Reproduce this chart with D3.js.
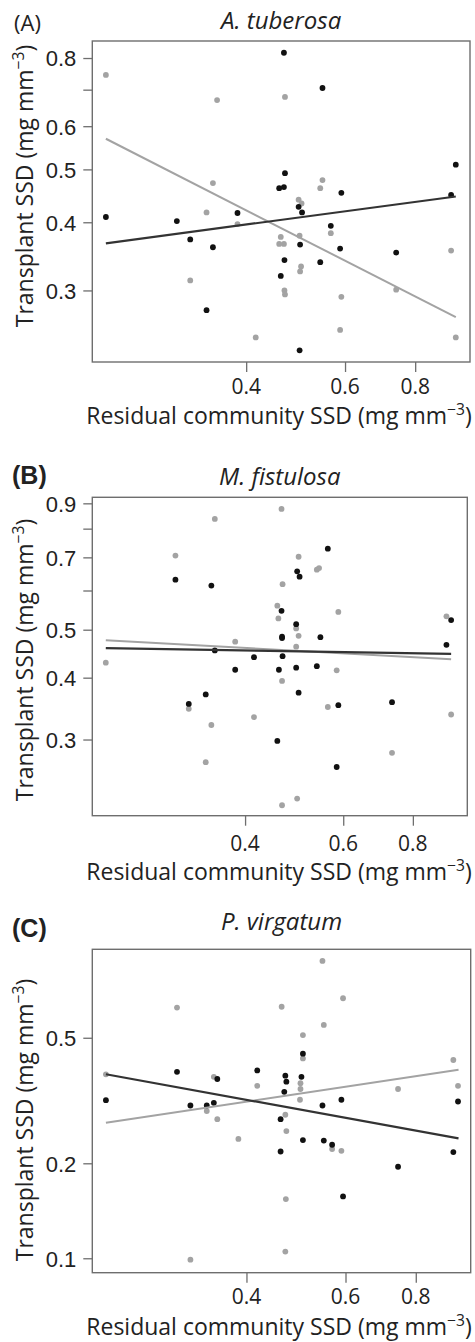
<!DOCTYPE html>
<html>
<head>
<meta charset="utf-8">
<script src="https://cdn.jsdelivr.net/npm/d3@7"></script>
<style>
  body { margin: 0; background: #fff; }
  svg { display: block; }
  .ytick { font-family: "Liberation Sans", Arial, sans-serif; font-size: 22px; fill: #222; }
  .xtick { font-family: "Open Sans", sans-serif; font-size: 21px; fill: #222; }
  .axis-title { font-family: "Open Sans", sans-serif; font-size: 23px; fill: #222; }
  .panel-title { font-family: "Open Sans", sans-serif; font-style: italic; font-size: 24px; fill: #222; }
</style>
</head>
<body>
<div id="chart"></div>
<script>
const width = 475, height = 1342;

// shared x axis (log scale)
const xDomain = [0.2128, 1.0017];
const xTicks = [0.4, 0.6, 0.8];

// (A) A. tuberosa
const aYDomain = [0.2218, 0.8596];
const aYTicks = [0.3, 0.4, 0.5, 0.6, 0.7, 0.8];
const aYLabels = [0.3, 0.4, 0.5, 0.6, 0.8];
const aBlackX = [0.225, 0.301, 0.318, 0.340, 0.349, 0.386, 0.467, 0.469, 0.458, 0.467, 0.468, 0.461,
  0.496, 0.503, 0.499, 0.498, 0.547, 0.591, 0.566, 0.542, 0.588, 0.740, 0.945, 0.927];
const aBlackY = [0.409, 0.402, 0.372, 0.276, 0.360, 0.416, 0.818, 0.492, 0.462, 0.464, 0.341, 0.319,
  0.427, 0.417, 0.364, 0.233, 0.705, 0.453, 0.394, 0.338, 0.358, 0.352, 0.510, 0.449];
const aGreyX = [0.225, 0.355, 0.349, 0.340, 0.318, 0.386, 0.416, 0.469, 0.547, 0.542, 0.496, 0.502, 0.461,
  0.458, 0.467, 0.468, 0.469, 0.498, 0.501, 0.499, 0.566, 0.591, 0.588, 0.740, 0.927, 0.945];
const aGreyY = [0.745, 0.670, 0.472, 0.417, 0.313, 0.397, 0.246, 0.679, 0.478, 0.462, 0.440, 0.433, 0.376,
  0.365, 0.365, 0.300, 0.295, 0.378, 0.332, 0.325, 0.382, 0.292, 0.254, 0.301, 0.355, 0.246];
const aFitX = [0.225, 0.945];
const aBlackFit = [0.366, 0.446];
const aGreyFit = [0.569, 0.268];

// (B) M. fistulosa
const bYDomain = [0.2105, 0.9256];
const bYTicks = [0.3, 0.4, 0.5, 0.6, 0.7, 0.8, 0.9];
const bYLabels = [0.3, 0.4, 0.5, 0.7, 0.9];
const bBlackX = [0.300, 0.348, 0.563, 0.496, 0.501, 0.465, 0.494, 0.466, 0.466, 0.546, 0.937, 0.919, 0.353,
  0.415, 0.467, 0.384, 0.460, 0.494, 0.538, 0.340, 0.317, 0.499, 0.588, 0.734, 0.457, 0.584];
const bBlackY = [0.631, 0.614, 0.729, 0.656, 0.640, 0.546, 0.513, 0.484, 0.481, 0.483, 0.523, 0.466, 0.454,
  0.440, 0.442, 0.415, 0.415, 0.419, 0.422, 0.370, 0.354, 0.373, 0.352, 0.357, 0.298, 0.264];
const bGreyX = [0.465, 0.353, 0.300, 0.499, 0.538, 0.543, 0.467, 0.457, 0.459, 0.494, 0.499, 0.494, 0.384, 0.588,
  0.919, 0.225, 0.584, 0.466, 0.317, 0.563, 0.415, 0.348, 0.937, 0.340, 0.734, 0.466, 0.496];
const bGreyY = [0.877, 0.837, 0.706, 0.702, 0.661, 0.666, 0.618, 0.559, 0.527, 0.503, 0.486, 0.462, 0.473, 0.543,
  0.532, 0.429, 0.414, 0.394, 0.346, 0.349, 0.333, 0.321, 0.337, 0.270, 0.282, 0.221, 0.228];
const bFitX = [0.225, 0.937];
const bBlackFit = [0.459, 0.447];
const bGreyFit = [0.476, 0.436];

// (C) P. virgatum
const cYDomain = [0.090, 0.9536];
const cYTicks = [0.1, 0.2, 0.5];
const cYLabels = [0.1, 0.2, 0.5];
const cBlackX = [0.504, 0.301, 0.418, 0.355, 0.469, 0.471, 0.501, 0.467, 0.225, 0.318, 0.340, 0.350,
  0.546, 0.590, 0.951, 0.460, 0.504, 0.549, 0.568, 0.460, 0.744, 0.933, 0.594];
const cBlackY = [0.445, 0.390, 0.394, 0.370, 0.379, 0.363, 0.376, 0.337, 0.317, 0.305, 0.305, 0.311,
  0.305, 0.318, 0.314, 0.276, 0.237, 0.236, 0.229, 0.218, 0.195, 0.217, 0.157];
const cGreyX = [0.546, 0.594, 0.301, 0.462, 0.549, 0.504, 0.504, 0.933, 0.225, 0.350, 0.418, 0.499, 0.499,
  0.744, 0.951, 0.498, 0.340, 0.355, 0.387, 0.469, 0.471, 0.568, 0.590, 0.470, 0.469, 0.318];
const cGreyY = [0.876, 0.667, 0.623, 0.627, 0.549, 0.510, 0.430, 0.425, 0.383, 0.376, 0.352, 0.359, 0.344,
  0.344, 0.352, 0.318, 0.293, 0.276, 0.239, 0.285, 0.253, 0.222, 0.219, 0.154, 0.105, 0.099];
const cFitX = [0.225, 0.953];
const cBlackFit = [0.383, 0.240];
const cGreyFit = [0.269, 0.396];

const black = "#111111";
const grey = "#a3a3a3";
const frame = "#6e6e6e";

const panels = [
  { label: "(A)", bold: false, labelY: 31, title: "A. tuberosa", titleY: 29,
    left: 92.3, right: 470, top: 41, bottom: 362,
    yDomain: aYDomain, yTicks: aYTicks, yLabels: aYLabels,
    blackX: aBlackX, blackY: aBlackY, greyX: aGreyX, greyY: aGreyY,
    fitX: aFitX, blackFit: aBlackFit, greyFit: aGreyFit,
    xTickY: 394, xTitleY: 424, yTitleY: 186 },
  { label: "(B)", bold: true, labelY: 484, title: "M. fistulosa", titleY: 485,
    left: 92.3, right: 467.3, top: 497.3, bottom: 815.7,
    yDomain: bYDomain, yTicks: bYTicks, yLabels: bYLabels,
    blackX: bBlackX, blackY: bBlackY, greyX: bGreyX, greyY: bGreyY,
    fitX: bFitX, blackFit: bBlackFit, greyFit: bGreyFit,
    xTickY: 851, xTitleY: 880, yTitleY: 660 },
  { label: "(C)", bold: true, labelY: 937, title: "P. virgatum", titleY: 930,
    left: 92.3, right: 470.7, top: 949.3, bottom: 1272.7,
    yDomain: cYDomain, yTicks: cYTicks, yLabels: cYLabels,
    blackX: cBlackX, blackY: cBlackY, greyX: cGreyX, greyY: cGreyY,
    fitX: cFitX, blackFit: cBlackFit, greyFit: cGreyFit,
    xTickY: 1304, xTitleY: 1335, yTitleY: 1120 }
];

const svg = d3.select("#chart")
  .append("svg")
  .attr("width", width)
  .attr("height", height);

const unitLabel = (sel, main) => {
  sel.append("tspan").text(main + " (mg mm");
  sel.append("tspan").text("\u22123").attr("font-size", "0.68em").attr("dy", "-0.55em");
  sel.append("tspan").text(")").attr("dy", "0.37em");
};

panels.forEach(p => {
  const g = svg.append("g");

  const x = d3.scaleLog().domain(xDomain).range([p.left, p.right]);
  const y = d3.scaleLog().domain(p.yDomain).range([p.bottom, p.top]);

  // y axis ticks, labels only where R kept them
  g.append("g")
    .attr("transform", `translate(${p.left},0)`)
    .call(d3.axisLeft(y).tickValues(p.yTicks).tickSize(9).tickSizeOuter(0)
      .tickFormat(d => p.yLabels.includes(d) ? d3.format(".1f")(d) : ""))
    .call(a => a.select(".domain").remove())
    .call(a => a.selectAll("line").attr("stroke", frame).attr("stroke-width", 1.3))
    .call(a => a.selectAll("text").attr("class", "ytick").attr("x", -16).attr("dy", "0.36em"));

  // x axis ticks
  g.append("g")
    .attr("transform", `translate(0,${p.bottom})`)
    .call(d3.axisBottom(x).tickValues(xTicks).tickSize(10).tickFormat(""))
    .call(a => a.select(".domain").remove())
    .call(a => a.selectAll("line").attr("stroke", frame).attr("stroke-width", 1.3));

  g.selectAll("text.xtick")
    .data(xTicks)
    .join("text")
      .attr("class", "xtick")
      .attr("x", d => x(d))
      .attr("y", p.xTickY)
      .attr("text-anchor", "middle")
      .text(d3.format(".1f"));

  // frame
  g.append("rect")
    .attr("x", p.left).attr("y", p.top)
    .attr("width", p.right - p.left).attr("height", p.bottom - p.top)
    .attr("fill", "none")
    .attr("stroke", frame)
    .attr("stroke-width", 1.4);

  // points: grey first, black on top
  g.selectAll("circle.grey")
    .data(d3.zip(p.greyX, p.greyY))
    .join("circle")
      .attr("class", "grey")
      .attr("cx", d => x(d[0])).attr("cy", d => y(d[1]))
      .attr("r", 2.9).attr("fill", grey);

  g.selectAll("circle.black")
    .data(d3.zip(p.blackX, p.blackY))
    .join("circle")
      .attr("class", "black")
      .attr("cx", d => x(d[0])).attr("cy", d => y(d[1]))
      .attr("r", 2.9).attr("fill", black);

  // fitted lines
  const line = d3.line().x(d => x(d[0])).y(d => y(d[1]));
  g.append("path")
    .attr("d", line(d3.zip(p.fitX, p.greyFit)))
    .attr("fill", "none").attr("stroke", grey).attr("stroke-width", 2);
  g.append("path")
    .attr("d", line(d3.zip(p.fitX, p.blackFit)))
    .attr("fill", "none").attr("stroke", "#333").attr("stroke-width", 2.2);

  // titles
  g.append("text")
    .attr("class", "panel-title")
    .attr("x", (p.left + p.right) / 2)
    .attr("y", p.titleY)
    .attr("text-anchor", "middle")
    .text(p.title);

  g.append("text")
    .attr("x", p.bold ? 12 : 14)
    .attr("y", p.labelY)
    .attr("font-family", p.bold ? "'Liberation Sans', Arial, sans-serif" : "'Open Sans', sans-serif")
    .attr("font-weight", p.bold ? "bold" : "normal")
    .attr("font-size", p.bold ? 25 : 22)
    .attr("fill", "#222")
    .text(p.label);

  g.append("text")
    .attr("class", "axis-title")
    .attr("x", 279)
    .attr("y", p.xTitleY)
    .attr("text-anchor", "middle")
    .call(unitLabel, "Residual community SSD");

  g.append("text")
    .attr("class", "axis-title")
    .attr("transform", `translate(33,${p.yTitleY}) rotate(-90)`)
    .attr("text-anchor", "middle")
    .call(unitLabel, "Transplant SSD");
});
</script>
</body>
</html>
